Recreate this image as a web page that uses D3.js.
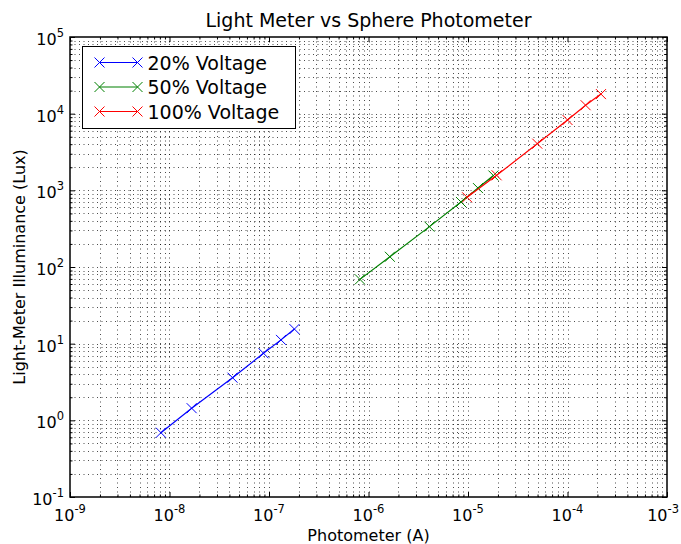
<!DOCTYPE html>
<html>
<head>
<meta charset="utf-8">
<script src="https://cdn.jsdelivr.net/npm/d3@7"></script>
<style>
  body { margin: 0; background: #fff; }
  text { font-family: "DejaVu Sans", sans-serif; }
</style>
</head>
<body>
<div id="chart"></div>
<script>
// data (photometer current in A, illuminance in lux)
var seriesNames = ["20% Voltage", "50% Voltage", "100% Voltage"];
var seriesColors = ["#0000ff", "#008000", "#ff0000"];

var photo20 = [8.2e-9, 1.67e-8, 4.3e-8, 8.8e-8, 1.32e-7, 1.8e-7];
var lux20 = [0.69, 1.44, 3.6, 7.5, 11.2, 15.5];

var photo50 = [8.2e-7, 1.64e-6, 4.1e-6, 8.5e-6, 1.26e-5, 1.8e-5];
var lux50 = [69, 136, 336, 705, 1070, 1560];

var photo100 = [9.8e-6, 1.94e-5, 4.97e-5, 1.0e-4, 1.52e-4, 2.17e-4];
var lux100 = [811, 1570, 4060, 8270, 12900, 18000];

var xExponents = [-9, -8, -7, -6, -5, -4, -3];
var yExponents = [-1, 0, 1, 2, 3, 4, 5];

var series = [
  { name: seriesNames[0], color: seriesColors[0], x: photo20, y: lux20 },
  { name: seriesNames[1], color: seriesColors[1], x: photo50, y: lux50 },
  { name: seriesNames[2], color: seriesColors[2], x: photo100, y: lux100 }
];

// set the dimensions of the graph
var svgWidth = 681;
var svgHeight = 544;
var margin = { top: 37, right: 14, bottom: 47, left: 70 };
var width = svgWidth - margin.left - margin.right;
var height = svgHeight - margin.top - margin.bottom;

var svg = d3.select("#chart")
  .append("svg")
  .attr("width", svgWidth)
  .attr("height", svgHeight);

var chartGroup = svg.append("g")
  .attr("transform", `translate(${margin.left}, ${margin.top})`);

var xScale = d3.scaleLog()
  .domain([Math.pow(10, xExponents[0]), Math.pow(10, xExponents[xExponents.length - 1])])
  .range([0, width]);

var yScale = d3.scaleLog()
  .domain([Math.pow(10, yExponents[0]), Math.pow(10, yExponents[yExponents.length - 1])])
  .range([height, 0]);

// major and minor tick values
function logTicks(exps) {
  var major = [], minor = [];
  exps.forEach(function(e, i) {
    major.push(Math.pow(10, e));
    if (i < exps.length - 1) {
      for (var k = 2; k <= 9; k++) minor.push(k * Math.pow(10, e));
    }
  });
  return { major: major, minor: minor };
}
var xt = logTicks(xExponents);
var yt = logTicks(yExponents);

// dotted grid
var grid = chartGroup.append("g")
  .attr("stroke", "#000")
  .attr("stroke-width", 0.7)
  .attr("stroke-dasharray", "1,3.5");

grid.selectAll(".gx")
  .data(xt.major.concat(xt.minor).filter(v => v > xScale.domain()[0] && v < xScale.domain()[1]))
  .enter().append("line")
  .attr("x1", d => Math.round(xScale(d)) + 0.5)
  .attr("x2", d => Math.round(xScale(d)) + 0.5)
  .attr("y1", 0).attr("y2", height);

grid.selectAll(".gy")
  .data(yt.major.concat(yt.minor).filter(v => v > yScale.domain()[0] && v < yScale.domain()[1]))
  .enter().append("line")
  .attr("y1", d => Math.round(yScale(d)) + 0.5)
  .attr("y2", d => Math.round(yScale(d)) + 0.5)
  .attr("x1", 0).attr("x2", width);

// inward ticks on all four sides
var tickFmt = () => "";
function addAxis(axisFn, scale, values, size, transform) {
  chartGroup.append("g")
    .attr("transform", transform)
    .call(axisFn(scale).tickValues(values).tickSize(size).tickFormat(tickFmt))
    .call(g => g.select(".domain").remove())
    .call(g => g.selectAll("line").attr("stroke", "#000"));
}
addAxis(d3.axisTop, xScale, xt.major, 5, `translate(0, ${height})`);
addAxis(d3.axisTop, xScale, xt.minor, 2.5, `translate(0, ${height})`);
addAxis(d3.axisBottom, xScale, xt.major, 5, "translate(0, 0)");
addAxis(d3.axisBottom, xScale, xt.minor, 2.5, "translate(0, 0)");
addAxis(d3.axisRight, yScale, yt.major, 5, "translate(0, 0)");
addAxis(d3.axisRight, yScale, yt.minor, 2.5, "translate(0, 0)");
addAxis(d3.axisLeft, yScale, yt.major, 5, `translate(${width}, 0)`);
addAxis(d3.axisLeft, yScale, yt.minor, 2.5, `translate(${width}, 0)`);

// tick labels with superscript exponents
xExponents.forEach(function(e, i) {
  var last = i === xExponents.length - 1;
  var t = chartGroup.append("text")
    .attr("x", xScale(Math.pow(10, e)) + (last ? 12 : 0))
    .attr("y", height + 24)
    .attr("text-anchor", last ? "end" : "middle")
    .attr("font-size", 16);
  t.append("tspan").text("10");
  t.append("tspan").attr("dy", -8).attr("font-size", 11.5).text(e);
});

yExponents.forEach(function(e) {
  var t = chartGroup.append("text")
    .attr("x", -6)
    .attr("y", yScale(Math.pow(10, e)) + 8)
    .attr("text-anchor", "end")
    .attr("font-size", 16);
  t.append("tspan").text("10");
  t.append("tspan").attr("dy", -8).attr("font-size", 11.5).text(e);
});

// lines and x markers
var line = d3.line()
  .x(d => xScale(d[0]))
  .y(d => yScale(d[1]));

var cross = "M-5,-5L5,5M-5,5L5,-5";

series.forEach(function(s) {
  var pts = s.x.map((v, i) => [v, s.y[i]]);
  chartGroup.append("path")
    .datum(pts)
    .attr("fill", "none")
    .attr("stroke", s.color)
    .attr("stroke-width", 1.2)
    .attr("d", line);

  chartGroup.selectAll(null)
    .data(pts)
    .enter().append("path")
    .attr("transform", d => `translate(${xScale(d[0])}, ${yScale(d[1])})`)
    .attr("d", cross)
    .attr("stroke", s.color)
    .attr("stroke-width", 1);
});

// frame
chartGroup.append("rect")
  .attr("width", width)
  .attr("height", height)
  .attr("fill", "none")
  .attr("stroke", "#000")
  .attr("stroke-width", 1.5);

// legend
var legend = chartGroup.append("g")
  .attr("transform", "translate(12.5, 9.5)");

legend.append("rect")
  .attr("width", 213)
  .attr("height", 82)
  .attr("fill", "#fff")
  .attr("stroke", "#000")
  .attr("stroke-width", 1);

series.forEach(function(s, i) {
  var yy = 16 + i * 24.5;
  legend.append("line")
    .attr("x1", 17).attr("x2", 55)
    .attr("y1", yy).attr("y2", yy)
    .attr("stroke", s.color)
    .attr("stroke-width", 1.2);
  [17, 55].forEach(function(xx) {
    legend.append("path")
      .attr("transform", `translate(${xx}, ${yy})`)
      .attr("d", cross)
      .attr("stroke", s.color)
      .attr("stroke-width", 1);
  });
  legend.append("text")
    .attr("x", 65)
    .attr("y", yy + 7)
    .attr("font-size", 19)
    .text(s.name);
});

// title and axis labels
svg.append("text")
  .attr("x", margin.left + width / 2)
  .attr("y", 27)
  .attr("text-anchor", "middle")
  .attr("font-size", 19)
  .text("Light Meter vs Sphere Photometer");

svg.append("text")
  .attr("x", margin.left + width / 2)
  .attr("y", 541)
  .attr("text-anchor", "middle")
  .attr("font-size", 16)
  .text("Photometer (A)");

svg.append("text")
  .attr("transform", `translate(25, ${margin.top + height / 2}) rotate(-90)`)
  .attr("text-anchor", "middle")
  .attr("font-size", 16)
  .text("Light-Meter Illuminance (Lux)");
</script>
</body>
</html>
